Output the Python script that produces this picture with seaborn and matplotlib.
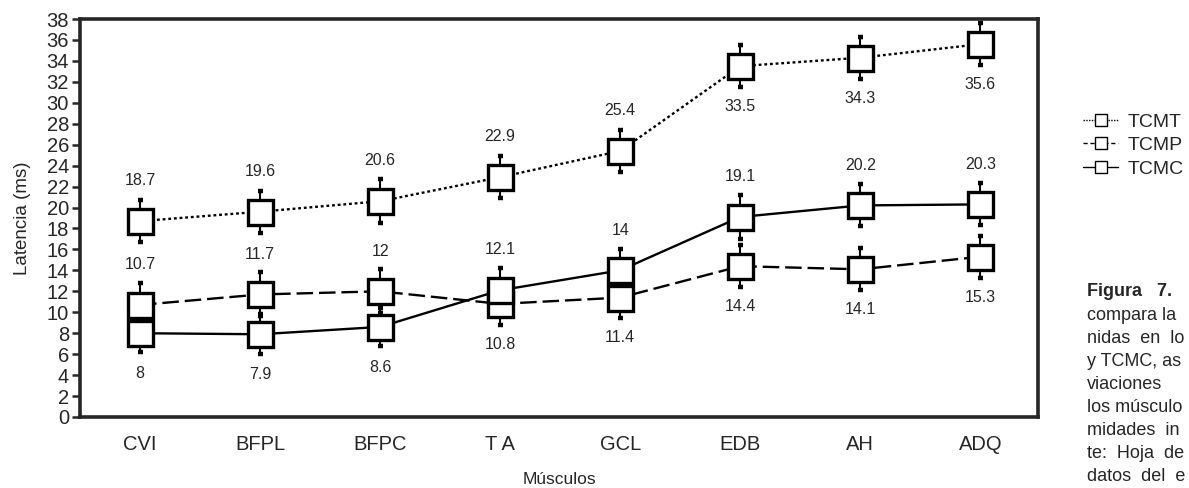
import matplotlib
matplotlib.use("Agg")
import matplotlib.pyplot as plt
import numpy as np
import pandas as pd
import seaborn as sns
from matplotlib.lines import Line2D

# ---------------- data ----------------
musculos = ["CVI", "BFPL", "BFPC", "T A", "GCL", "EDB", "AH", "ADQ"]
series = ["TCMT", "TCMP", "TCMC"]
tcmt = [18.7, 19.6, 20.6, 22.9, 25.4, 33.5, 34.3, 35.6]
tcmp = [10.7, 11.7, 12.0, 10.8, 11.4, 14.4, 14.1, 15.3]
tcmc = [8.0, 7.9, 8.6, 12.1, 14.0, 19.1, 20.2, 20.3]
sd_tcmt = [2.0, 2.0, 2.1, 2.0, 2.0, 2.0, 2.0, 2.0]
sd_tcmp = [2.1, 2.1, 2.1, 2.0, 1.9, 2.0, 2.0, 2.0]
sd_tcmc = [1.8, 1.9, 1.8, 2.1, 2.0, 2.1, 2.0, 2.0]
# where each value label sits relative to its point (+1 above, -1 below)
lab_tcmt = [1, 1, 1, 1, 1, -1, -1, -1]
lab_tcmp = [1, 1, 1, -1, -1, -1, -1, -1]
lab_tcmc = [-1, -1, -1, 1, 1, 1, 1, 1]
yticks = list(range(0, 39, 2))
caption = ["Figura   7.", "compara la", "nidas  en  lo", "y TCMC, as",
           "viaciones", "los músculo", "midades  in", "te:  Hoja  de",
           "datos  del  e"]

values = {"TCMT": tcmt, "TCMP": tcmp, "TCMC": tcmc}
sds = {"TCMT": sd_tcmt, "TCMP": sd_tcmp, "TCMC": sd_tcmc}
labpos = {"TCMT": lab_tcmt, "TCMP": lab_tcmp, "TCMC": lab_tcmc}

df = pd.DataFrame({
    "Músculos": musculos * 3,
    "Latencia": tcmt + tcmp + tcmc,
    "Serie": [s for s in series for _ in musculos],
})

# ---------------- style ----------------
sns.set_style("ticks")
plt.rcParams["font.family"] = ["Liberation Sans", "DejaVu Sans"]

fig = plt.figure(figsize=(11.89, 4.88), dpi=100)
ax = fig.add_axes([80 / 1189, 71 / 488, 958 / 1189, 398 / 488])

dashes = {"TCMT": (1.2, 1.2), "TCMP": (7, 2.5), "TCMC": ""}
markers = {"TCMT": "s", "TCMP": "s", "TCMC": "s"}

sns.lineplot(data=df, x="Músculos", y="Latencia", style="Serie",
             dashes=dashes, markers=markers, color="black", sort=False,
             markersize=18, markerfacecolor="white", markeredgecolor="black",
             markeredgewidth=2.4, linewidth=1.7, legend=False, ax=ax, zorder=3)

for s in series:
    ax.errorbar(musculos, values[s], yerr=sds[s], fmt="none", ecolor="black",
                elinewidth=1.5, capsize=1.8, capthick=3.2, zorder=2)
    for i, (v, p) in enumerate(zip(values[s], labpos[s])):
        ax.annotate(f"{v:g}", (i, v), xytext=(0, 29 * p),
                    textcoords="offset points", ha="center", va="center",
                    fontsize=11.5, family=["Liberation Sans Narrow", "Liberation Sans"])

ax.set_xlim(-0.5, 7.48)
ax.set_ylim(0, 38)
ax.set_yticks(yticks)
ax.tick_params(axis="y", length=6, width=1.8, labelsize=14.5, pad=2)
ax.tick_params(axis="x", length=0, labelsize=14.5, pad=13)
for sp in ax.spines.values():
    sp.set_visible(True)
    sp.set_linewidth(2.6)
ax.set_ylabel("Latencia (ms)", fontsize=13.5, labelpad=11)
ax.set_xlabel("Músculos", fontsize=12.5, labelpad=13)

handles = [Line2D([], [], color="black", linewidth=1.0, linestyle=ls,
                  marker="s", markersize=9, markerfacecolor="white",
                  markeredgecolor="black", markeredgewidth=1.0)
           for ls in [(0, (1, 1)), (0, (3, 2)), "-"]]
fig.legend(handles, series, loc="upper left",
           bbox_to_anchor=(1083 / 1189, 1 - 113 / 488), frameon=False,
           fontsize=14, handlelength=1.8, handletextpad=0.5,
           labelspacing=0.3, borderaxespad=0, borderpad=0)

for k, line in enumerate(caption):
    fig.text(1087 / 1189, 1 - (292 + 23.1 * k) / 488, line, fontsize=13,
             va="center", ha="left", fontweight="bold" if k == 0 else "normal")

fig.savefig("out.png", dpi=100)
